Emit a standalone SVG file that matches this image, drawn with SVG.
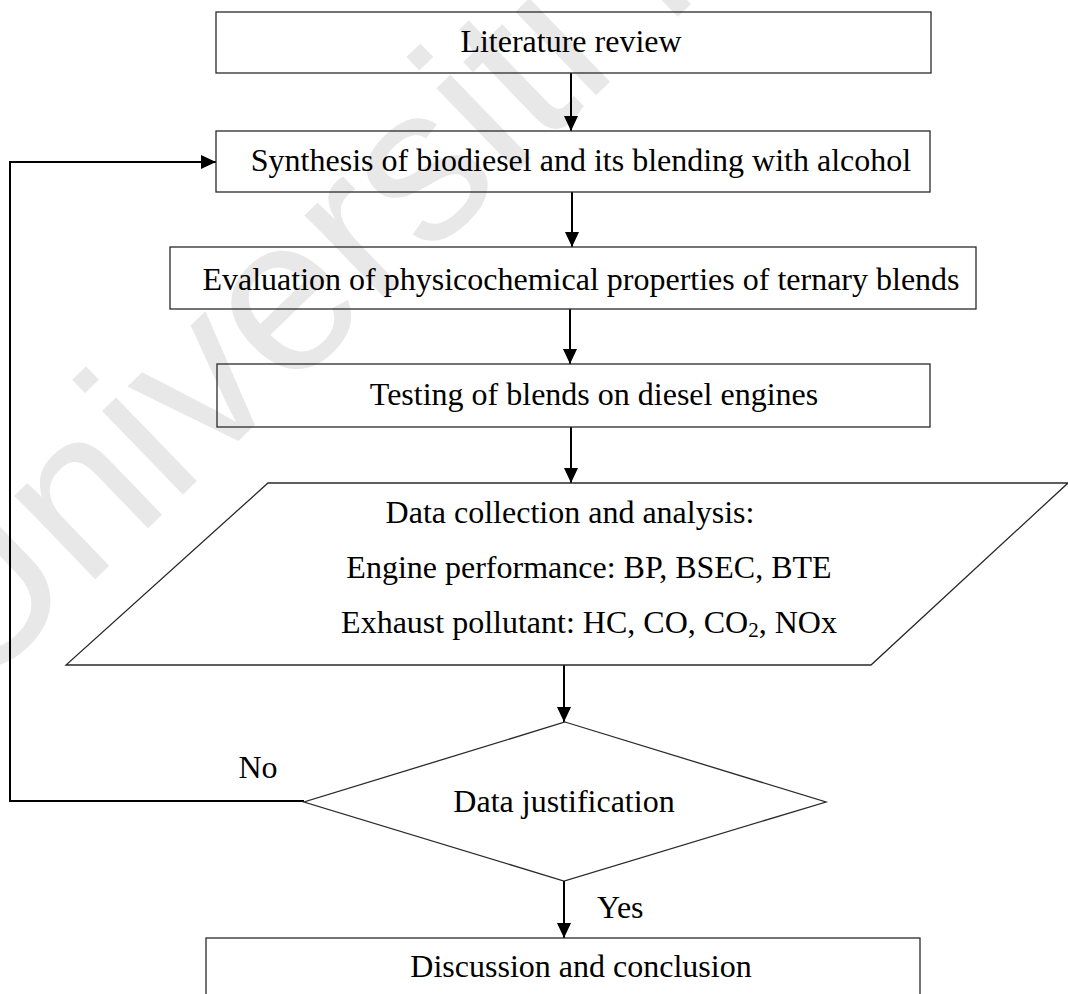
<svg xmlns="http://www.w3.org/2000/svg" width="1068" height="994" viewBox="0 0 1068 994">
<style>
.shape{fill:none;stroke:#2a2a2a;stroke-width:1.3}
.box{fill:#ffffff;fill-opacity:0;stroke:#2a2a2a;stroke-width:1.3}
.lbl{font-family:"Liberation Serif","Times New Roman",serif;font-size:32px;fill:#000}
.mid{text-anchor:middle}
.conn{fill:none;stroke:#000;stroke-width:2}
.wm{font-family:"Liberation Sans",Arial,sans-serif;font-size:220px;fill:#e8e8e8}
</style>
<defs>
<marker id="arr" markerUnits="userSpaceOnUse" markerWidth="16" markerHeight="15" refX="15" refY="7" orient="auto">
<path d="M0,0 L15,7 L0,14 Z" fill="#000"/>
</marker>
</defs>
<rect width="1068" height="994" fill="#fff"/>
<g id="watermark">
<text class="wm" transform="translate(-30,700) rotate(-44)">Universiti M</text>
</g>
<g id="connectors">
<line class="conn" x1="571" y1="73" x2="571" y2="131" marker-end="url(#arr)"/>
<line class="conn" x1="572" y1="192" x2="572" y2="247" marker-end="url(#arr)"/>
<line class="conn" x1="570" y1="309" x2="570" y2="364" marker-end="url(#arr)"/>
<line class="conn" x1="571" y1="427" x2="571" y2="483" marker-end="url(#arr)"/>
<line class="conn" x1="564" y1="665" x2="564" y2="722" marker-end="url(#arr)"/>
<line class="conn" x1="564" y1="881" x2="564" y2="938" marker-end="url(#arr)"/>
<polyline class="conn" points="304,801 10,801 10,162 216,162" marker-end="url(#arr)"/>
<text class="lbl mid" x="258" y="778">No</text>
<text class="lbl" x="597" y="918">Yes</text>
</g>
<g id="n1">
<rect class="box" x="216" y="12" width="715" height="61"/>
<text class="lbl mid" x="571" y="52">Literature review</text>
</g>
<g id="n2">
<rect class="box" x="216" y="131" width="714" height="61"/>
<text class="lbl mid" x="581" y="171">Synthesis of biodiesel and its blending with alcohol</text>
</g>
<g id="n3">
<rect class="box" x="170" y="247" width="806" height="62"/>
<text class="lbl mid" x="581" y="290">Evaluation of physicochemical properties of ternary blends</text>
</g>
<g id="n4">
<rect class="box" x="217" y="364" width="713" height="63"/>
<text class="lbl mid" x="594" y="405">Testing of blends on diesel engines</text>
</g>
<g id="n5">
<polygon class="shape" points="268,483 1068,483 871,665 66,665"/>
<text class="lbl mid" x="570" y="523">Data collection and analysis:</text>
<text class="lbl mid" x="589" y="578">Engine performance: BP, BSEC, BTE</text>
<text class="lbl mid" x="589" y="633">Exhaust pollutant: HC, CO, CO<tspan font-size="21" dy="4">2</tspan><tspan dy="-4">, NOx</tspan></text>
</g>
<g id="n6">
<polygon class="shape" points="565,722 826,802 564,881 304,802"/>
<text class="lbl mid" x="564" y="812">Data justification</text>
</g>
<g id="n7">
<rect class="box" x="206" y="938" width="714" height="80"/>
<text class="lbl mid" x="581" y="977">Discussion and conclusion</text>
</g>
</svg>
